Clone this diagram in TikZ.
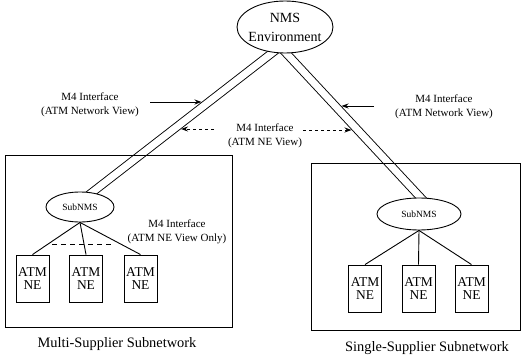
\documentclass[tikz,border=0pt]{standalone}
\usepackage{fontspec}
\setmainfont{Liberation Serif}
\usetikzlibrary{shapes.geometric,arrows.meta,calc,backgrounds}
\begin{document}
\begin{tikzpicture}[x=1pt,y=-1pt,
  line width=0.9pt,
  oval/.style={draw,ellipse,fill=white,inner sep=0pt},
  nebox/.style={draw,minimum width=33pt,minimum height=47pt,inner sep=0pt,
    align=center,font=\fontsize{13.5}{13}\selectfont},
  frame/.style={draw,inner sep=0pt},
  lbl/.style={align=center,font=\fontsize{11}{14.5}\selectfont},
  captxt/.style={font=\fontsize{14.4}{16}\selectfont},
  link/.style={double distance=7pt,line width=0.9pt},
  tip/.style={-{Stealth[length=7pt,width=5pt]}},
  dtip/.style={tip,dash pattern=on 3pt off 3pt}]
\useasboundingbox (0,0) rectangle (525,361);

% subnetwork frames
\node[frame,minimum width=227pt,minimum height=172pt] (lframe) at (118.5,241) {};
\node[frame,minimum width=209pt,minimum height=167pt] (rframe) at (415.5,246.5) {};

% top level management system
\node[oval,minimum width=96pt,minimum height=52pt] (nms) at (285,27) {};
\node[align=center,font=\fontsize{14}{19}\selectfont] (nmstxt) at (nms) {NMS\\Environment};

% subnetwork managers
\node[oval,minimum width=68pt,minimum height=30pt,font=\fontsize{9.5}{10}\selectfont] (lsub) at (80,207) {SubNMS};
\node[oval,minimum width=84pt,minimum height=32pt,font=\fontsize{9.5}{10}\selectfont] (rsub) at (419,214) {SubNMS};

% network elements
\node[nebox] (l1) at (32.5,278.5) {ATM\\NE};
\node[nebox] (l2) at (86,278.5) {ATM\\NE};
\node[nebox] (l3) at (140.5,278.5) {ATM\\NE};
\node[nebox] (r1) at (365,288.5) {ATM\\NE};
\node[nebox] (r2) at (418.5,288.5) {ATM\\NE};
\node[nebox] (r3) at (471.5,288.5) {ATM\\NE};

% M4 links as double lines, tucked under the ovals
\coordinate (la) at (272,53);
\coordinate (lb) at (90,194);
\coordinate (ra) at (286,53);
\coordinate (rb) at (421,198);
\begin{scope}[on background layer]
  \draw[link] ($(la)!-10pt!(lb)$) -- ($(lb)!-6pt!(la)$);
  \draw[link] ($(ra)!-10pt!(rb)$) -- ($(rb)!-6pt!(ra)$);
\end{scope}

% element links
\draw (lsub.south) -- (l1.north);
\draw (lsub.south) -- (l2.north);
\draw (lsub.south) -- (l3.north);
\draw (rsub.south) -- (r1.north);
\draw (rsub.south) -- (r2.north);
\draw (rsub.south) -- (r3.north);
\coordinate (dl) at (52,244);
\coordinate (dr) at (114,244);
\draw[dash pattern=on 5pt off 4pt] (dl) -- (dr);

% labels
\node[lbl] (lview) at (90,105) {M4 Interface\\(ATM Network View)};
\node[lbl] (rview) at (444,107) {M4 Interface\\(ATM Network View)};
\node[lbl] (mview) at (265,136) {M4 Interface\\(ATM NE View)};
\node[lbl] (neview) at (177,232) {M4 Interface\\(ATM NE View Only)};
\node[captxt] (lcap) at (117,344) {Multi-Supplier Subnetwork};
\node[captxt] (rcap) at (427,348) {Single-Supplier Subnetwork};

% interface pointers
\coordinate (a1s) at (150,102);
\coordinate (a1e) at (201.5,102);
\coordinate (a2s) at (374,106);
\coordinate (a2e) at (341.5,106);
\coordinate (a3s) at (214,129);
\coordinate (a3e) at (181,129);
\coordinate (a4s) at (303,130);
\coordinate (a4e) at (351.5,130);
\draw[tip] (a1s) -- (a1e);
\draw[tip] (a2s) -- (a2e);
\draw[dtip] (a3s) -- (a3e);
\draw[dtip] (a4s) -- (a4e);
\end{tikzpicture}
\end{document}
